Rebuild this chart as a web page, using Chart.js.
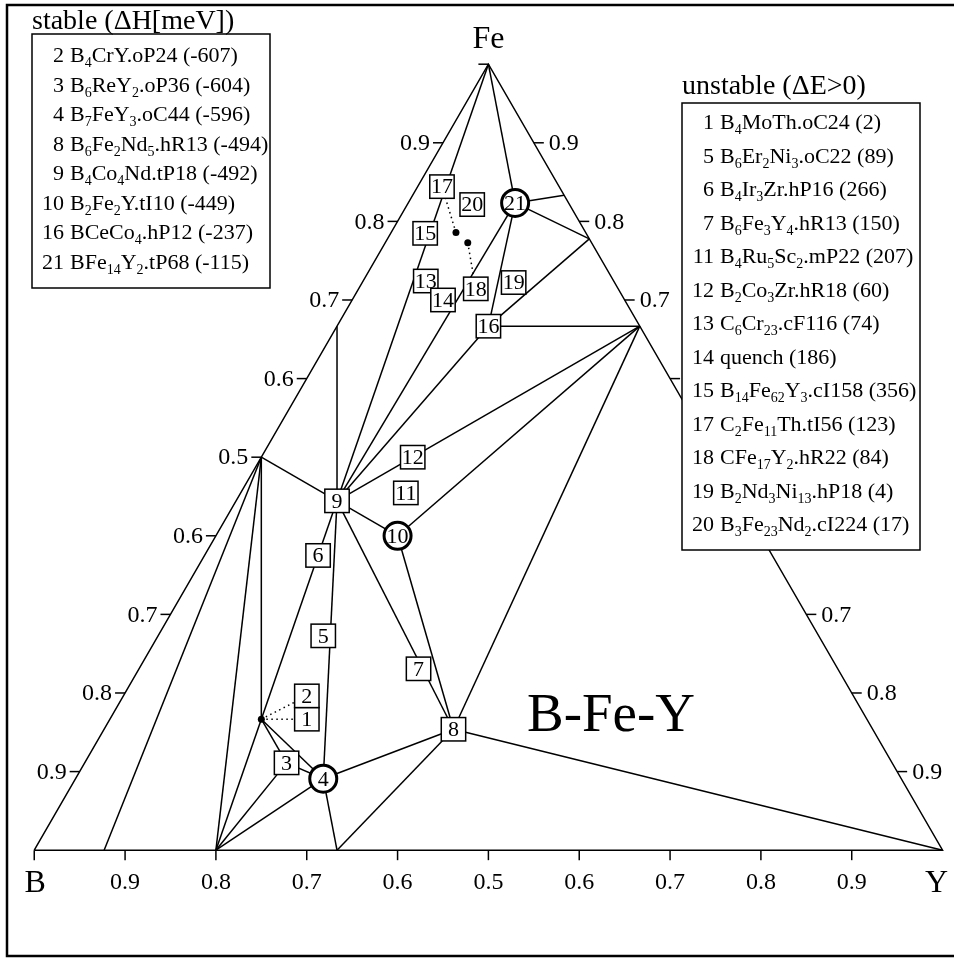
<!DOCTYPE html>
<html>
<head>
<meta charset="utf-8">
<script src="https://cdn.jsdelivr.net/npm/chart.js@4.4.1/dist/chart.umd.min.js"></script>
<style>
  html, body { margin: 0; padding: 0; background: #fff; }
  canvas { display: block; }
</style>
</head>
<body>
<canvas id="c" width="954" height="959"></canvas>
<script>
// hull phases, atom counts of B, Fe, Y
const phaseNames = ['B', 'Fe', 'Y', 'B12Y', 'B4Y', 'B2Y', 'FeB', 'Fe2B', 'Fe2Y', 'Fe7Y2', 'Fe5Y',
                    'B4FeY', 'B6FeY2', 'B7FeY3', 'B6Fe2Y5', 'B4Fe4Y', 'B2Fe2Y', 'BFe4Y', 'BFe14Y2'];
const phaseB  = [1, 0, 0, 12, 4, 2, 1, 1, 0, 0, 0, 4, 6, 7, 6, 4, 2, 1, 1];
const phaseFe = [0, 1, 0, 0, 0, 0, 1, 2, 2, 7, 5, 1, 1, 1, 2, 4, 2, 4, 14];
const phaseY  = [0, 0, 1, 1, 1, 1, 0, 0, 1, 2, 1, 1, 2, 3, 5, 1, 1, 1, 2];

// tie lines between hull phases
const tieFrom = ['B12Y', 'B4Y', 'FeB', 'FeB', 'Fe2B', 'Fe', 'Fe', 'BFe14Y2', 'BFe14Y2', 'BFe14Y2', 'BFe14Y2',
                 'BFe4Y', 'BFe4Y', 'BFe4Y', 'B4Fe4Y', 'B4Fe4Y', 'B2Fe2Y', 'B2Fe2Y', 'B4Fe4Y', 'B6Fe2Y5',
                 'B4Fe4Y', 'B4Fe4Y', 'B4FeY', 'B4FeY', 'B4FeY', 'B6FeY2', 'B6FeY2', 'B7FeY3', 'B7FeY3',
                 'B7FeY3', 'B6Fe2Y5', 'B6Fe2Y5'];
const tieTo   = ['FeB', 'FeB', 'B4FeY', 'B4Fe4Y', 'B4Fe4Y', 'B4Fe4Y', 'BFe14Y2', 'Fe5Y', 'Fe7Y2', 'BFe4Y', 'B4Fe4Y',
                 'B4Fe4Y', 'Fe7Y2', 'Fe2Y', 'Fe2Y', 'B2Fe2Y', 'Fe2Y', 'B6Fe2Y5', 'B6Fe2Y5', 'Fe2Y',
                 'B4FeY', 'B7FeY3', 'B4Y', 'B6FeY2', 'B7FeY3', 'B7FeY3', 'B4Y', 'B4Y', 'B2Y',
                 'B6Fe2Y5', 'B2Y', 'Y'];

// numbered compounds (prototype mapped onto B-Fe-Y)
const labelNum = [1, 2, 3, 4, 5, 6, 7, 8, 9, 10, 11, 12, 13, 14, 15, 16, 17, 18, 19, 20, 21];
const labelB   = [4, 4, 6, 7, 6, 4, 6, 6, 4, 2, 4, 2, 6, 2, 14, 1, 2, 3, 2, 3, 1];
const labelFe  = [1, 1, 1, 1, 3, 3, 3, 2, 4, 2, 5, 3, 21, 7, 62, 4, 11, 17, 13, 23, 14];
const labelY   = [1, 1, 2, 3, 2, 1, 4, 5, 1, 1, 2, 1, 2, 1, 3, 1, 1, 2, 3, 2, 2];
const circled  = [4, 10, 21];
const dotted   = [2, 17, 18];

// axis ticks
const edgeTicks = [0.1, 0.2, 0.3, 0.4, 0.5, 0.6, 0.7, 0.8, 0.9];
const edgeTickLabels = ['0.9', '0.8', '0.7', '0.6', '0.5', '0.6', '0.7', '0.8', '0.9'];

const stableTitle = 'stable (\u0394H[meV])';
const stableRows = ['2 B_4CrY.oP24 (-607)', '3 B_6ReY_2.oP36 (-604)', '4 B_7FeY_3.oC44 (-596)',
  '8 B_6Fe_2Nd_5.hR13 (-494)', '9 B_4Co_4Nd.tP18 (-492)', '10 B_2Fe_2Y.tI10 (-449)',
  '16 BCeCo_4.hP12 (-237)', '21 BFe_14Y_2.tP68 (-115)'];
const unstableTitle = 'unstable (\u0394E>0)';
const unstableRows = ['1 B_4MoTh.oC24 (2)', '5 B_6Er_2Ni_3.oC22 (89)', '6 B_4Ir_3Zr.hP16 (266)',
  '7 B_6Fe_3Y_4.hR13 (150)', '11 B_4Ru_5Sc_2.mP22 (207)', '12 B_2Co_3Zr.hR18 (60)',
  '13 C_6Cr_23.cF116 (74)', '14 quench (186)', '15 B_14Fe_62Y_3.cI158 (356)',
  '17 C_2Fe_11Th.tI56 (123)', '18 CFe_17Y_2.hR22 (84)', '19 B_2Nd_3Ni_13.hP18 (4)',
  '20 B_3Fe_23Nd_2.cI224 (17)'];

// pixel shifts of the boxes that sit off their composition
const boxShift = { 1: [45.5, 0], 2: [45.5, -23.3], 17: [-14, -46], 18: [8, 46] };
const FONT = '"Liberation Serif", "DejaVu Serif", serif';

function toXY(b, fe, y) {
  const s = b + fe + y;
  return { x: y / s + fe / s / 2, y: fe / s };
}
function phasePt(name) {
  const i = phaseNames.indexOf(name);
  return toXY(phaseB[i], phaseFe[i], phaseY[i]);
}
function labelPt(n) {
  const i = labelNum.indexOf(n);
  return toXY(labelB[i], labelFe[i], labelY[i]);
}

const lineStyle = { showLine: true, borderColor: '#000', borderWidth: 1.5, pointRadius: 0, fill: false };
const datasets = [];
datasets.push(Object.assign({ data: ['B', 'Fe', 'Y', 'B'].map(phasePt), borderJoinStyle: 'miter' }, lineStyle));
tieFrom.forEach((a, i) => {
  datasets.push(Object.assign({ data: [phasePt(a), phasePt(tieTo[i])] }, lineStyle));
});
datasets.push({ data: dotted.map(labelPt), showLine: false, pointRadius: 3.5,
  backgroundColor: '#000', borderWidth: 0 });

function richText(ctx, str, x, base, size, subSize) {
  const parts = str.split(/_(\d+)/);
  let cx = x;
  parts.forEach((p, i) => {
    if (!p) return;
    if (i % 2) {
      ctx.font = subSize + 'px ' + FONT;
      ctx.fillText(p, cx, base + 5);
    } else {
      ctx.font = size + 'px ' + FONT;
      ctx.fillText(p, cx, base);
    }
    cx += ctx.measureText(p).width;
  });
}

function drawLegend(ctx, title, rows, left, top, w, h, titleBase, firstRow, step) {
  ctx.fillStyle = '#fff';
  ctx.fillRect(left, top, w, h);
  ctx.strokeStyle = '#000';
  ctx.lineWidth = 1.5;
  ctx.strokeRect(left, top, w, h);
  ctx.fillStyle = '#000';
  ctx.textBaseline = 'alphabetic';
  ctx.textAlign = 'left';
  ctx.font = '28px ' + FONT;
  ctx.fillText(title, left, titleBase);
  rows.forEach((r, i) => {
    const sp = r.indexOf(' ');
    const base = firstRow + i * step + 7;
    ctx.font = '22px ' + FONT;
    ctx.textAlign = 'right';
    ctx.fillText(r.slice(0, sp), left + 32, base);
    ctx.textAlign = 'left';
    richText(ctx, r.slice(sp + 1), left + 38, base, 22, 14);
  });
}

const decor = {
  id: 'decor',
  afterDatasetsDraw(chart) {
    const ctx = chart.ctx;
    const xs = chart.scales.x, ys = chart.scales.y;
    const pix = p => [xs.getPixelForValue(p.x), ys.getPixelForValue(p.y)];
    ctx.save();
    ctx.strokeStyle = '#000';
    ctx.fillStyle = '#000';
    ctx.lineWidth = 1.5;

    // ticks and tick labels
    ctx.font = '24px ' + FONT;
    const tick = (a, b) => { ctx.beginPath(); ctx.moveTo(a[0], a[1]); ctx.lineTo(b[0], b[1]); ctx.stroke(); };
    [0].concat(edgeTicks).forEach((t, i) => {
      const p = pix(toXY(1 - t, 0, t));
      tick(p, [p[0], p[1] + 10]);
      if (i > 0) {
        ctx.textAlign = 'center';
        ctx.textBaseline = 'alphabetic';
        ctx.fillText(edgeTickLabels[i - 1], p[0], p[1] + 39);
      }
    });
    ctx.textBaseline = 'middle';
    edgeTicks.concat([1]).forEach((f, i) => {
      const p = pix(toXY(1 - f, f, 0));
      tick(p, [p[0] - 10, p[1]]);
      if (i < edgeTicks.length) {
        ctx.textAlign = 'right';
        ctx.fillText(edgeTickLabels[i], p[0] - 13, p[1] + 1);
      }
    });
    edgeTicks.forEach((f, i) => {
      const p = pix(toXY(0, f, 1 - f));
      tick(p, [p[0] + 10, p[1]]);
      ctx.textAlign = 'left';
      ctx.fillText(edgeTickLabels[i], p[0] + 15, p[1] + 1);
    });

    // corner names and system name
    ctx.textAlign = 'center';
    ctx.textBaseline = 'alphabetic';
    ctx.font = '32px ' + FONT;
    const pB = pix(phasePt('B')), pY = pix(phasePt('Y')), pF = pix(phasePt('Fe'));
    ctx.fillText('B', pB[0] + 1, pB[1] + 42);
    ctx.fillText('Y', pY[0] - 6, pY[1] + 42);
    ctx.fillText('Fe', pF[0], pF[1] - 16);
    ctx.font = '55px ' + FONT;
    ctx.fillText('B-Fe-Y', 611, 731);

    // dotted connectors from composition dots to shifted boxes
    ctx.setLineDash([1.5, 3.5]);
    ctx.lineWidth = 1.5;
    Object.keys(boxShift).forEach(k => {
      const p = pix(labelPt(+k));
      ctx.beginPath();
      ctx.moveTo(p[0], p[1]);
      ctx.lineTo(p[0] + boxShift[k][0], p[1] + boxShift[k][1]);
      ctx.stroke();
    });
    ctx.setLineDash([]);

    // markers
    labelNum.forEach(n => {
      const p = pix(labelPt(n));
      const sh = boxShift[n] || [0, 0];
      const cx = p[0] + sh[0], cy = p[1] + sh[1];
      ctx.fillStyle = '#fff';
      if (circled.includes(n)) {
        ctx.lineWidth = 3;
        ctx.beginPath();
        ctx.arc(cx, cy, 13.5, 0, Math.PI * 2);
        ctx.fill();
        ctx.stroke();
      } else {
        ctx.lineWidth = 1.5;
        ctx.fillRect(cx - 12.2, cy - 11.7, 24.4, 23.4);
        ctx.strokeRect(cx - 12.2, cy - 11.7, 24.4, 23.4);
      }
      ctx.fillStyle = '#000';
      ctx.font = '22px ' + FONT;
      ctx.textAlign = 'center';
      ctx.textBaseline = 'middle';
      ctx.fillText(String(n), cx, cy + 1);
    });

    // legends
    drawLegend(ctx, stableTitle, stableRows, 32, 34, 238, 254, 29, 55, 29.5);
    drawLegend(ctx, unstableTitle, unstableRows, 682, 103, 238, 447, 94, 122, 33.5);

    // outer frame
    ctx.lineWidth = 2.5;
    ctx.strokeStyle = '#000';
    ctx.strokeRect(7, 5, 960, 951);
    ctx.restore();
  }
};

new Chart(document.getElementById('c'), {
  type: 'scatter',
  data: { datasets: datasets },
  options: {
    responsive: false,
    animation: false,
    devicePixelRatio: 1,
    layout: { padding: 0 },
    scales: {
      x: { type: 'linear', display: false, min: -30.5 / 916, max: (954 - 30.5) / 916 },
      y: { type: 'linear', display: false, min: (853.3 - 959) / 792.6, max: 853.3 / 792.6 }
    },
    plugins: { legend: { display: false }, tooltip: { enabled: false } },
    elements: { line: { tension: 0 } }
  },
  plugins: [decor]
});
</script>
</body>
</html>
